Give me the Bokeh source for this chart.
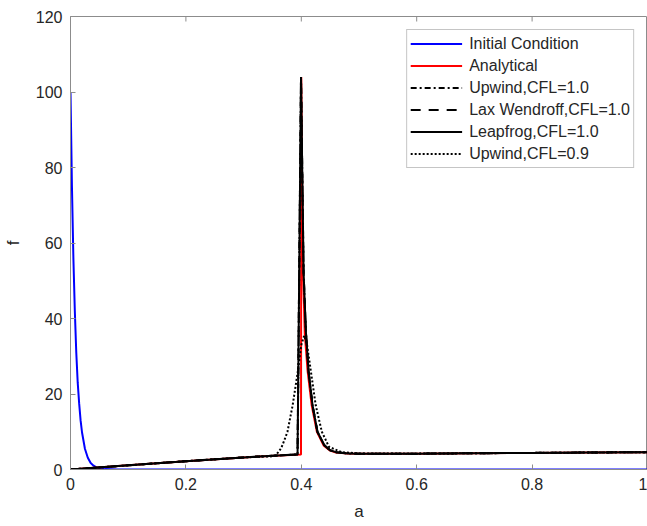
from bokeh.plotting import figure
from bokeh.models import Range1d, FixedTicker, Legend, LegendItem
from bokeh.embed import file_html
from bokeh.resources import INLINE

# ---- data ----
x_ticks = [0, 0.2, 0.4, 0.6, 0.8, 1.0]
x_tick_labels = ["0", "0.2", "0.4", "0.6", "0.8", "1"]
y_ticks = [0, 20, 40, 60, 80, 100, 120]
y_tick_labels = ["0", "20", "40", "60", "80", "100", "120"]

# Initial condition (blue)
a_init = [0, 0.0025, 0.005, 0.0075, 0.01, 0.0125, 0.015, 0.0175, 0.02, 0.025,
          0.03, 0.035, 0.04, 0.045, 0.05, 0.06, 0.08, 0.1, 0.2, 0.4, 0.6, 0.8, 1.0]
f_init = [100, 75, 56, 42, 31, 23, 17.5, 13, 9.8, 5.5,
          3.1, 1.7, 1.0, 0.55, 0.3, 0.1, 0.02, 0, 0, 0, 0, 0, 0]

# Analytical (red)
a_anal = [0, 0.1, 0.2, 0.3, 0.3995, 0.4, 0.4025, 0.406, 0.411, 0.418, 0.427,
          0.439, 0.45, 0.46, 0.48, 0.5, 0.6, 0.7, 0.8, 0.9, 1.0]
f_anal = [0, 1.1, 2.2, 3.2, 4.0, 104, 55, 36, 26, 17, 10,
          6.3, 5.0, 4.5, 4.25, 4.2, 4.2, 4.3, 4.4, 4.5, 4.6]

# Upwind / Lax-Wendroff / Leapfrog at CFL=1.0 (coincide on the picture)
a_cfl1 = [0, 0.1, 0.2, 0.3, 0.3935, 0.3995, 0.404, 0.408, 0.4126, 0.4195, 0.428,
          0.44, 0.45, 0.46, 0.48, 0.5, 0.6, 0.7, 0.8, 0.9, 1.0]
f_cfl1 = [0, 1.1, 2.2, 3.2, 4.0, 104, 52, 36.5, 26, 17, 10,
          6.4, 5.1, 4.6, 4.25, 4.2, 4.2, 4.3, 4.4, 4.5, 4.6]
f_upwind_1 = f_cfl1
f_laxw_1 = f_cfl1
f_leap_1 = f_cfl1

# Upwind at CFL=0.9 (dotted)
a_up09 = [0, 0.1, 0.2, 0.3, 0.35, 0.356, 0.365, 0.37, 0.376, 0.385, 0.394, 0.40,
          0.405, 0.41, 0.4166, 0.425, 0.4356, 0.448, 0.47, 0.5, 0.6, 0.7, 0.8, 0.9, 1.0]
f_up09 = [0, 1.1, 2.2, 3.2, 3.5, 3.8, 5.6, 7.5, 10, 17, 26, 33,
          35.5, 33, 26, 17, 10, 6, 4.6, 4.25, 4.2, 4.3, 4.4, 4.5, 4.6]

FONT = "Liberation Sans"
TXT = "#262626"
GRAY = "#8c8c8c"
Y_MAX = y_ticks[-1]

p = figure(width=647, height=526, x_range=Range1d(0, 1), y_range=Range1d(0, Y_MAX),
           output_backend="svg", toolbar_location=None,
           min_border_left=70, min_border_right=0, min_border_top=16, min_border_bottom=57)
p.xgrid.visible = False
p.ygrid.visible = False
p.outline_line_color = GRAY
p.background_fill_color = "white"

p.xaxis.ticker = FixedTicker(ticks=x_ticks)
p.xaxis.major_label_overrides = {t: l for t, l in zip(x_ticks, x_tick_labels)}
p.yaxis.ticker = FixedTicker(ticks=y_ticks)
p.yaxis.major_label_overrides = {t: l for t, l in zip(y_ticks, y_tick_labels)}

for ax in (p.xaxis[0], p.yaxis[0]):
    ax.axis_line_color = GRAY
    ax.major_tick_line_color = GRAY
    ax.major_tick_in = 5
    ax.major_tick_out = 0
    ax.minor_tick_line_color = None
    ax.major_label_text_font = FONT
    ax.major_label_text_font_size = "16px"
    ax.major_label_text_color = TXT
    ax.major_label_standoff = 8
    ax.axis_label_text_font = FONT
    ax.axis_label_text_font_size = "17px"
    ax.axis_label_text_font_style = "normal"
    ax.axis_label_text_color = TXT

p.xaxis.axis_label = "a"
p.xaxis.axis_label_standoff = 9
p.yaxis.axis_label = "f"
p.yaxis.axis_label_standoff = 10

# inward ticks on the top edge of the box (MATLAB style)
p.segment(x0=x_ticks[1:-1], y0=[Y_MAX] * 4, x1=x_ticks[1:-1], y1=[Y_MAX * (1 - 5 / 453)] * 4,
          line_color=GRAY, line_width=1)

r_init = p.line(a_init, f_init, line_color="#0000ff", line_width=2)
r_anal = p.line(a_anal, f_anal, line_color="#ff0000", line_width=2)
r_up1 = p.line(a_cfl1, f_upwind_1, line_color="black", line_width=2, line_dash="6 3 2 3")
r_lw1 = p.line(a_cfl1, f_laxw_1, line_color="black", line_width=2, line_dash="10 8")
r_lf1 = p.line(a_cfl1, f_leap_1, line_color="black", line_width=2)
r_up09 = p.line(a_up09, f_up09, line_color="black", line_width=2, line_dash="2 2")

legend = Legend(items=[
    LegendItem(label="Initial Condition", renderers=[r_init]),
    LegendItem(label="Analytical", renderers=[r_anal]),
    LegendItem(label="Upwind,CFL=1.0", renderers=[r_up1]),
    LegendItem(label="Lax Wendroff,CFL=1.0", renderers=[r_lw1]),
    LegendItem(label="Leapfrog,CFL=1.0", renderers=[r_lf1]),
    LegendItem(label="Upwind,CFL=0.9", renderers=[r_up09]),
], location="top_right")
legend.margin = 13
legend.padding = 3
legend.spacing = 1
legend.glyph_width = 52
legend.glyph_height = 21
legend.label_height = 21
legend.label_standoff = 7
legend.label_text_font = FONT
legend.label_text_font_size = "16px"
legend.label_text_color = TXT
legend.border_line_color = GRAY
legend.border_line_width = 1
legend.background_fill_color = "white"
legend.background_fill_alpha = 1
p.add_layout(legend)

open("out.html", "w").write(file_html(p, INLINE))
